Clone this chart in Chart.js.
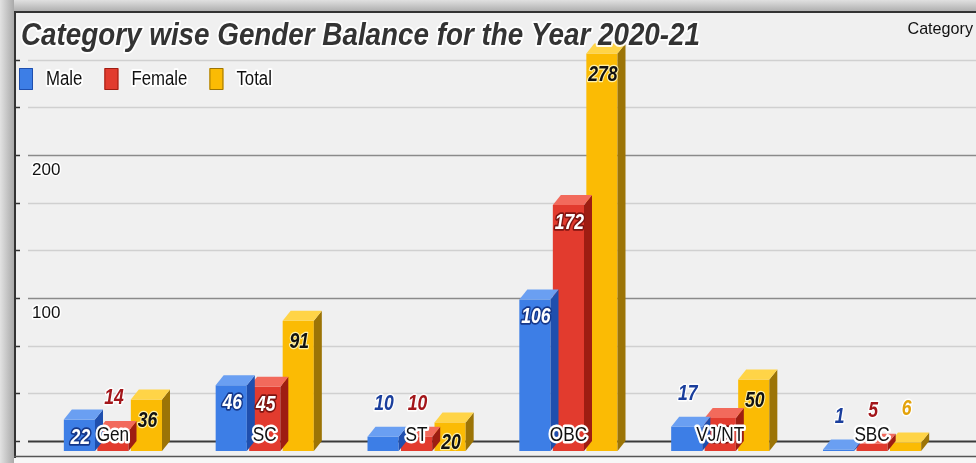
<!DOCTYPE html>
<html><head><meta charset="utf-8">
<script src="https://cdn.jsdelivr.net/npm/chart.js@4.4.1/dist/chart.umd.min.js"></script>
<style>html,body{margin:0;padding:0;background:#f0f0f0;overflow:hidden}#wrap{width:976px;height:463px;position:relative}canvas{display:block}</style>
</head><body><div id="wrap"><canvas id="c" width="976" height="463"></canvas></div>
<script>
// ---- data ----
const categories = ['Gen', 'SC', 'ST', 'OBC', 'VJ/NT', 'SBC'];
const male   = [22, 46, 10, 106, 17, 1];
const female = [14, 45, 10, 172, 23, 5];
const total  = [36, 91, 20, 278, 50, 6];
const seriesNames = ['Male', 'Female', 'Total'];
const labeledTicks = [100, 200];
const yMax = 300;
const gridStep = 100 / 3;
const titleText = 'Category wise Gender Balance for the Year 2020-21';
const cornerText = 'Category';

// ---- style ----
const FONT = "'Liberation Sans',Arial,sans-serif";
const DX = 8, DY = 10;
const palette = [
  {front:'#3d7ee6', top:'#6a9ff2', side:'#1f4fae', label:'#1a3e9c', stroke:'#15378a'},
  {front:'#e23b2e', top:'#f26a5c', side:'#9e1d12', label:'#a3161a', stroke:'#7e1410'},
  {front:'#fbbb04', top:'#ffd447', side:'#9c7406', label:'#e3a20a', stroke:'#fff1a8'}
];

// condensed text helper (horizontal squeeze like the reference's narrow face)
function ctext(ctx, s, x, y, sx, fill, stroke, lw) {
  ctx.save();
  ctx.translate(x, y);
  ctx.scale(sx, 1);
  if (stroke) { ctx.strokeStyle = stroke; ctx.lineWidth = lw; ctx.strokeText(s, 0, 0); }
  ctx.fillStyle = fill; ctx.fillText(s, 0, 0);
  ctx.restore();
}

const deco = {
  id: 'deco',
  beforeDraw(chart) {
    const ctx = chart.ctx, W = chart.width, H = chart.height;
    const y = chart.scales.y;
    ctx.save();
    ctx.fillStyle = '#f0f0f0';
    ctx.fillRect(0, 0, W, H);
    let g = ctx.createLinearGradient(0, 0, 14, 0);
    g.addColorStop(0, '#e2e2e2'); g.addColorStop(1, '#a9a9a9');
    ctx.fillStyle = g; ctx.fillRect(0, 0, 14, H);
    g = ctx.createLinearGradient(0, 0, 0, 11);
    g.addColorStop(0, '#e0e0e0'); g.addColorStop(1, '#b0b0b0');
    ctx.fillStyle = g; ctx.fillRect(14, 0, W - 14, 11);
    ctx.fillStyle = '#f7f7f7'; ctx.fillRect(14, 457, W - 14, H - 457);
    ctx.strokeStyle = '#333'; ctx.lineWidth = 2;
    ctx.beginPath(); ctx.moveTo(15, 11); ctx.lineTo(15, 458); ctx.stroke();
    ctx.beginPath(); ctx.moveTo(14, 12); ctx.lineTo(W, 12); ctx.stroke();
    ctx.strokeStyle = '#555'; ctx.lineWidth = 1.5;
    ctx.beginPath(); ctx.moveTo(14, 456.5); ctx.lineTo(W, 456.5); ctx.stroke();
    y.ticks.forEach(t => {
      const v = Math.round(t.value * 1000) / 1000;
      if (v >= yMax - 0.01) return;
      const py = Math.round(y.getPixelForValue(t.value) - DY) + 0.5;
      let col = '#d0d0d0', lw = 1.5;
      if (Math.abs(v) < 0.01) { col = '#3a3a3a'; lw = 2; }
      else if (labeledTicks.some(k => Math.abs(k - v) < 0.01)) { col = '#8a8a8a'; lw = 1.5; }
      ctx.strokeStyle = col; ctx.lineWidth = lw;
      ctx.beginPath(); ctx.moveTo(28, py); ctx.lineTo(W, py); ctx.stroke();
      ctx.strokeStyle = '#333'; ctx.lineWidth = 1.5;
      ctx.beginPath(); ctx.moveTo(15, py); ctx.lineTo(20, py); ctx.stroke();
    });
    ctx.restore();
  },
  afterDatasetDraw(chart, args) {
    const ctx = chart.ctx, i = args.index, p = palette[i];
    ctx.save();
    args.meta.data.forEach(el => {
      const l = el.x - el.width / 2, r = el.x + el.width / 2, t = el.y, b = el.base;
      ctx.fillStyle = p.side;
      ctx.beginPath();
      ctx.moveTo(r, t); ctx.lineTo(r + DX, t - DY); ctx.lineTo(r + DX, b - DY); ctx.lineTo(r, b);
      ctx.closePath(); ctx.fill();
      ctx.fillStyle = p.top;
      ctx.beginPath();
      ctx.moveTo(l, t); ctx.lineTo(l + DX, t - DY); ctx.lineTo(r + DX, t - DY); ctx.lineTo(r, t);
      ctx.closePath(); ctx.fill();
    });
    ctx.restore();
  },
  afterDatasetsDraw(chart) {
    const ctx = chart.ctx;
    ctx.save();
    ctx.textAlign = 'center'; ctx.textBaseline = 'middle'; ctx.lineJoin = 'round';
    chart.data.datasets.forEach((ds, i) => {
      const p = palette[i];
      chart.getDatasetMeta(i).data.forEach((el, j) => {
        const v = String(ds.data[j]);
        const x = el.x + 1;
        ctx.font = `italic bold 22px ${FONT}`;
        if (ds.data[j] >= 20) {
          const yy = el.y + (i === 2 ? 21 : 18);
          if (i === 2) ctext(ctx, v, x, yy, 0.8, '#111', p.stroke, 2.5);
          else ctext(ctx, v, x, yy, 0.8, '#fff', p.stroke, 3.5);
        } else {
          ctext(ctx, v, x, el.y - 33, 0.8, p.label, 'rgba(255,255,255,0.9)', 3);
        }
      });
    });
    const xs = chart.scales.x;
    ctx.font = `21px ${FONT}`;
    categories.forEach((c, j) => {
      ctext(ctx, c, xs.getPixelForValue(j), 435, 0.82, '#111', '#fff', 5);
    });
    ctx.restore();
  },
  afterDraw(chart) {
    const ctx = chart.ctx;
    ctx.save();
    ctx.lineJoin = 'round';
    ctx.textAlign = 'left'; ctx.textBaseline = 'alphabetic';
    ctx.font = `italic bold 31px ${FONT}`;
    const tw = ctx.measureText(titleText).width;
    ctext(ctx, titleText, 21, 45, 679 / tw, '#333', 'rgba(255,255,255,0.9)', 4);
    ctx.textAlign = 'right';
    ctx.font = `17px ${FONT}`;
    ctext(ctx, cornerText, 973, 34, 0.95, '#111', null, 0);
    ctx.textAlign = 'left'; ctx.textBaseline = 'middle';
    ctx.font = `20px ${FONT}`;
    let x = 19;
    chart.data.datasets.forEach((ds, i) => {
      ctx.fillStyle = palette[i].front;
      ctx.fillRect(x, 68, 14, 22);
      ctx.strokeStyle = palette[i].side; ctx.lineWidth = 1;
      ctx.strokeRect(x + 0.5, 68.5, 13, 21);
      const tx = x + 27;
      ctext(ctx, ds.label, tx, 79, 0.84, '#111', '#fff', 4);
      x = tx + ctx.measureText(ds.label).width * 0.84 + 22;
    });
    ctx.restore();
  }
};

new Chart(document.getElementById('c').getContext('2d'), {
  type: 'bar',
  data: {
    labels: categories,
    datasets: [male, female, total].map((d, i) => ({
      label: seriesNames[i], data: d, backgroundColor: palette[i].front,
      borderWidth: 0, categoryPercentage: 0.662, barPercentage: 0.93
    }))
  },
  options: {
    responsive: false, animation: false, devicePixelRatio: 1,
    layout: { padding: { left: 37, right: 28, top: 22, bottom: 12 } },
    plugins: { legend: { display: false }, title: { display: false }, tooltip: { enabled: false } },
    scales: {
      x: { display: false },
      y: {
        min: 0, max: yMax, display: true,
        afterFit: (s) => { s.width = 0; },
        grid: { display: false, drawTicks: false }, border: { display: false },
        ticks: {
          stepSize: gridStep, mirror: true, padding: -5, labelOffset: 5,
          color: '#111', font: { family: FONT, size: 17 },
          textStrokeColor: '#fff', textStrokeWidth: 3,
          callback: (v) => {
            const r = Math.round(v);
            return (Math.abs(v - r) < 1e-6 && labeledTicks.includes(r)) ? String(r) : '';
          }
        }
      }
    }
  },
  plugins: [deco]
});
</script>
</body></html>
